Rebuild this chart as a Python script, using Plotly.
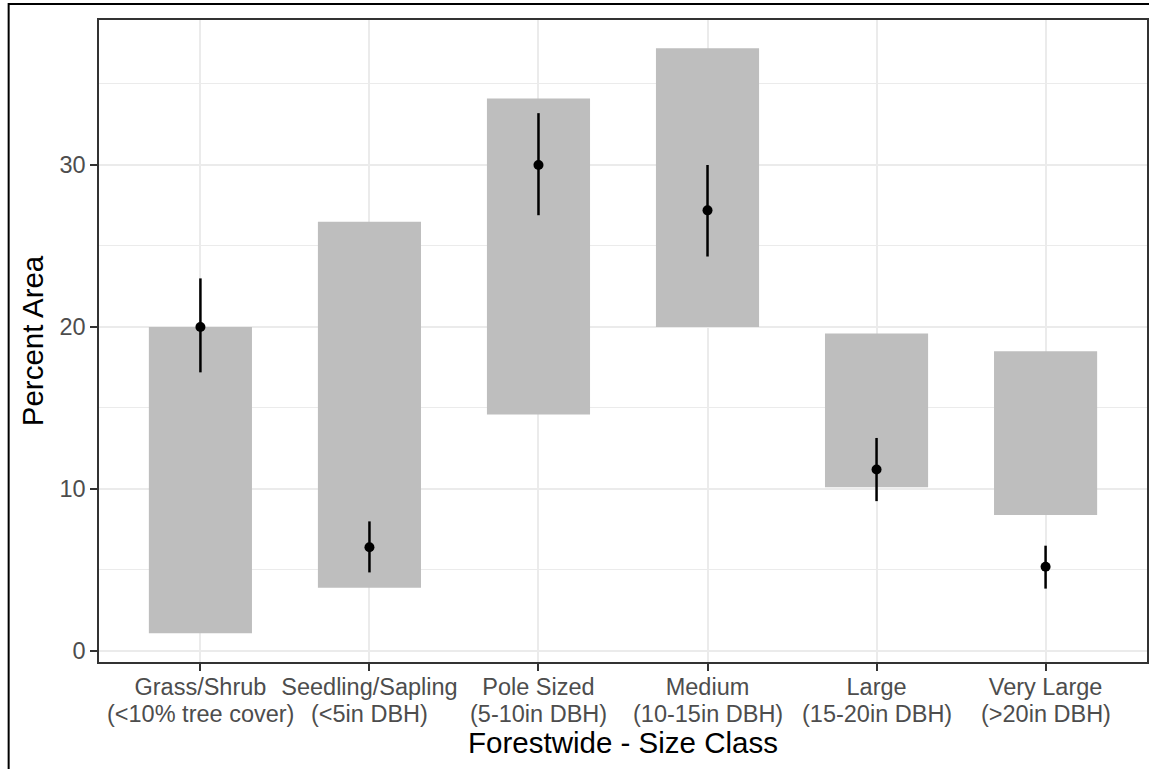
import plotly.graph_objects as go

label_line1 = ["Grass/Shrub", "Seedling/Sapling", "Pole Sized", "Medium", "Large", "Very Large"]
label_line2 = ["(<10% tree cover)", "(<5in DBH)", "(5-10in DBH)", "(10-15in DBH)",
               "(15-20in DBH)", "(>20in DBH)"]
range_low = [1.1, 3.9, 14.6, 20.0, 10.1, 8.4]
range_high = [20.0, 26.5, 34.1, 37.2, 19.6, 18.5]
estimate = [20.0, 6.4, 30.0, 27.2, 11.2, 5.2]
ci_low = [17.2, 4.85, 26.9, 24.35, 9.25, 3.85]
ci_high = [23.0, 8.0, 33.2, 30.0, 13.15, 6.5]
y_ticks = [0, 10, 20, 30]

categories = [a + " " + b for a, b in zip(label_line1, label_line2)]

fig = go.Figure()
fig.add_trace(go.Bar(
    x=categories,
    y=[h - l for h, l in zip(range_high, range_low)],
    base=range_low,
    width=0.61,
    marker=dict(color="#BEBEBE", line=dict(width=0)),
    showlegend=False, hoverinfo="skip",
))
fig.add_trace(go.Scatter(
    x=categories, y=estimate, mode="markers",
    marker=dict(color="black", size=10),
    error_y=dict(type="data", symmetric=False,
                 array=[h - e for h, e in zip(ci_high, estimate)],
                 arrayminus=[e - l for e, l in zip(estimate, ci_low)],
                 color="black", thickness=2.5, width=0),
    showlegend=False,
))

PL, PR, PT, PB = 99.3, 1146.7, 20, 662
W, H = 1149, 769
pw, ph = PR - PL, PB - PT
TICK_FONT = 23.5

annotations = [
    dict(x=c, y=-(714 - PB) / ph, xref="x", yref="paper", text=t, showarrow=False,
         xanchor="center", yanchor="middle",
         font=dict(size=TICK_FONT, color="#4D4D4D"))
    for c, t in zip(categories, label_line2)
]

fig.update_layout(
    width=W, height=H,
    margin=dict(l=PL, r=W - PR, t=PT, b=H - PB),
    paper_bgcolor="white", plot_bgcolor="white",
    font=dict(family="Liberation Sans, Arial, sans-serif"),
    xaxis=dict(
        type="category", range=[-0.6, 5.6], automargin=False, tickangle=0,
        tickvals=categories, ticktext=label_line1, ticklabelstandoff=-4,
        showgrid=True, gridcolor="#EBEBEB", gridwidth=1.5,
        ticks="outside", ticklen=7, tickwidth=1.5, tickcolor="#333333",
        tickfont=dict(size=TICK_FONT, color="#4D4D4D"),
        showline=True, linecolor="#333333", linewidth=1.5, mirror=True,
        title=dict(text="Forestwide - Size Class", font=dict(size=29.5, color="black"), standoff=33),
        zeroline=False,
    ),
    yaxis=dict(
        range=[-0.68, 38.95], automargin=False,
        tickvals=y_ticks,
        showgrid=True, gridcolor="#EBEBEB", gridwidth=1.5,
        minor=dict(dtick=10, tick0=5, showgrid=True, gridcolor="#EBEBEB", gridwidth=0.8),
        ticks="outside", ticklen=7, tickwidth=1.5, tickcolor="#333333",
        tickfont=dict(size=TICK_FONT, color="#4D4D4D"),
        showline=True, linecolor="#333333", linewidth=1.5, mirror=True,
        title=dict(text="Percent Area", font=dict(size=29.5, color="black"), standoff=7),
        zeroline=False,
    ),
    annotations=annotations,
    shapes=[dict(
        type="rect", xref="paper", yref="paper",
        x0=(9 - PL) / pw, x1=(W + 5 - PL) / pw,
        y0=-(H + 5 - PB) / ph, y1=1 + (PT - 4) / ph,
        line=dict(color="black", width=2), fillcolor="rgba(0,0,0,0)", layer="above",
    )],
)

fig.write_html("out.html")
